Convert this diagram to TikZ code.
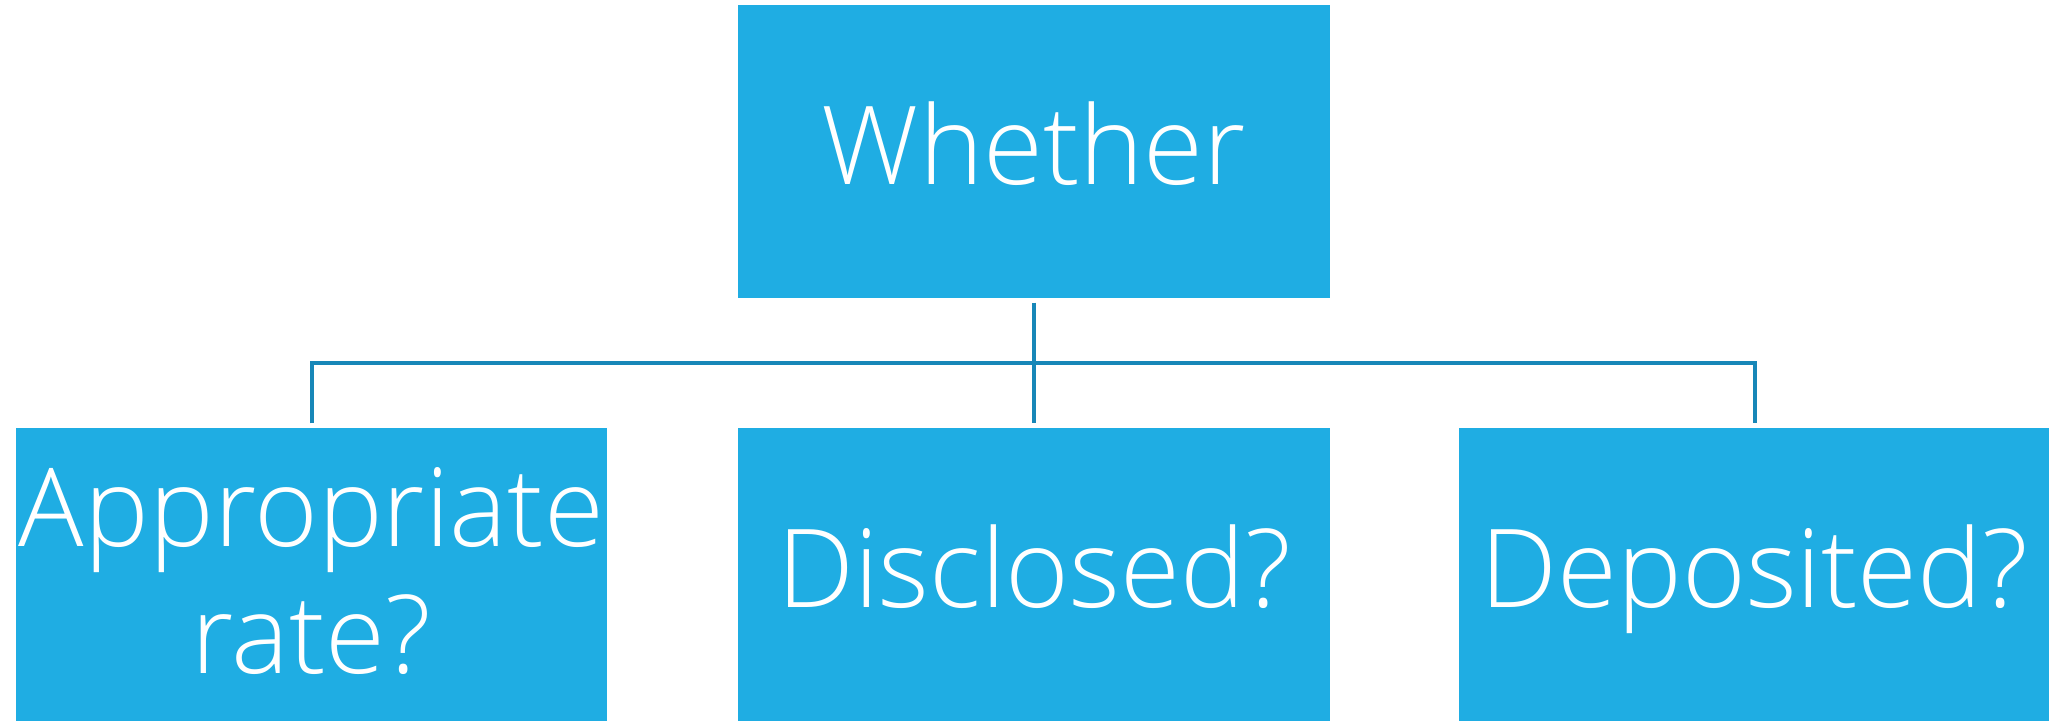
\documentclass[tikz,border=0pt]{standalone}
\usepackage{fontspec}
\IfFontExistsTF{Open Sans Light}{\setmainfont{Open Sans Light}}{\setmainfont{Open Sans}}
\definecolor{boxblue}{HTML}{1FADE3}
\definecolor{linkblue}{HTML}{1787B8}
\tikzset{
  qbox/.style={fill=boxblue, draw=white, line width=0.4pt, minimum width=5.93cm,
    minimum height=2.95cm, inner sep=0pt, text=white, align=center,
    font=\fontsize{31}{36}\selectfont},
  oneline/.style={text height=0.86cm, text depth=0.2cm},
  link/.style={linkblue, line width=0.04cm, shorten <=0.03cm, shorten >=0.03cm}
}
\begin{document}
\begin{tikzpicture}

\useasboundingbox (0,0) rectangle (20.49,-7.21);

% question boxes
\node[qbox, oneline] (whether) at (10.34,-1.515) {Whether};
\node[qbox, text depth=0.08cm] (rate) at (3.115,-5.745) {Appropriate\\rate?};
\node[qbox, oneline] (disclosed) at (10.34,-5.745) {Disclosed?};
\node[qbox, oneline] (deposited) at (17.545,-5.745) {Deposited?};

% connectors
\coordinate (bus) at (10.34,-3.63);
\draw[link] (whether.south) -- (disclosed.north);
\draw[link] (rate.north) |- (bus) -| (deposited.north);

\end{tikzpicture}
\end{document}
